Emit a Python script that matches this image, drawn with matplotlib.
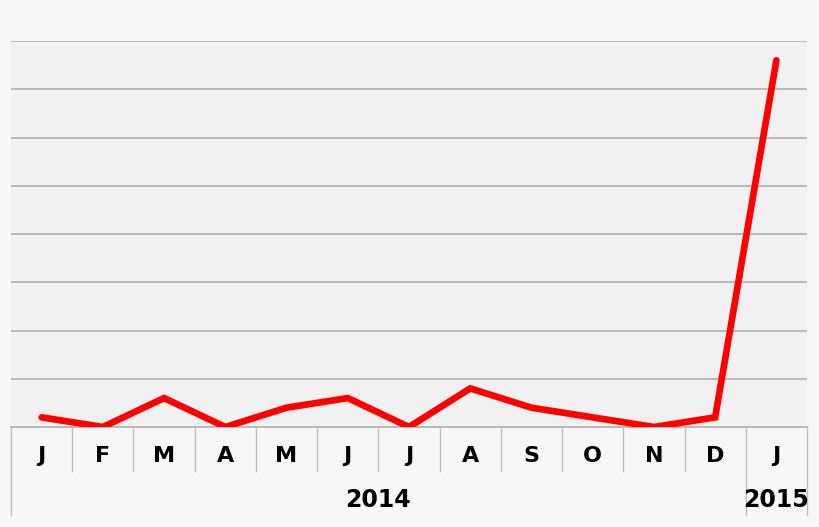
import matplotlib

matplotlib.use("Agg")
import matplotlib.pyplot as plt
import numpy as np

# ── Data ─────────────────────────────────────────────────────────────────────
months = ["J", "F", "M", "A", "M", "J", "J", "A", "S", "O", "N", "D", "J"]
values = [2, 0, 6, 0, 4, 6, 0, 8, 4, 2, 0, 2, 76]
years = ["2014", "2015"]
year_spans = [(0, 12), (12, 13)]  # category index ranges covered by each year

# ── Style ────────────────────────────────────────────────────────────────────
BG = "#f6f6f6"
PLOT_BG = "#f0f0f0"
GRID = "#b8b8b8"
SEP = "#bdbdbd"
LINE = "#ff0000"
FONT = ["DejaVu Sans"]

W, H = 820, 527
fig = plt.figure(figsize=(W / 100, H / 100), dpi=100, facecolor=BG)
left, right, top, bottom = 11, 807, 41, 427
ax = fig.add_axes([left / W, 1 - bottom / H, (right - left) / W, (bottom - top) / H])
ax.set_facecolor(PLOT_BG)

n = len(months)
x = np.arange(n)
ax.set_xlim(-0.5, n - 0.5)
ax.set_ylim(0, 80)

for gy in range(10, 81, 10):
    ax.axhline(gy, color=GRID, lw=1.4, zorder=1)

ax.plot(x, values, color=LINE, lw=4.8, solid_joinstyle="miter",
        solid_capstyle="round", zorder=3)

for s in ax.spines.values():
    s.set_visible(False)
ax.axhline(0, color=GRID, lw=1.4, zorder=2, clip_on=False)
ax.set_xticks([])
ax.set_yticks([])

# ── Category axis: month row + year row ─────────────────────────────────────
tr = ax.get_xaxis_transform()
ph = bottom - top
month_bot = -(471 - bottom) / ph
year_bot = -(515 - bottom) / ph
month_y = -(456 - bottom) / ph
year_y = -(500 - bottom) / ph

year_edges = {s for span in year_spans for s in span}
for b in range(n + 1):
    xb = b - 0.5
    y0 = year_bot if b in year_edges else month_bot
    ax.plot([xb, xb], [0, y0], color=SEP, lw=1.0, transform=tr, clip_on=False)

for i, m in enumerate(months):
    ax.text(i, month_y, m, transform=tr, ha="center", va="center",
            fontsize=16, fontweight="bold", family=FONT)

for yr, (a, b) in zip(years, year_spans):
    cx = (a + b - 1) / 2
    ax.text(cx, year_y, yr, transform=tr, ha="center", va="center",
            fontsize=17, fontweight="bold", family=FONT)

fig.savefig("out.png", dpi=100, facecolor=BG)
